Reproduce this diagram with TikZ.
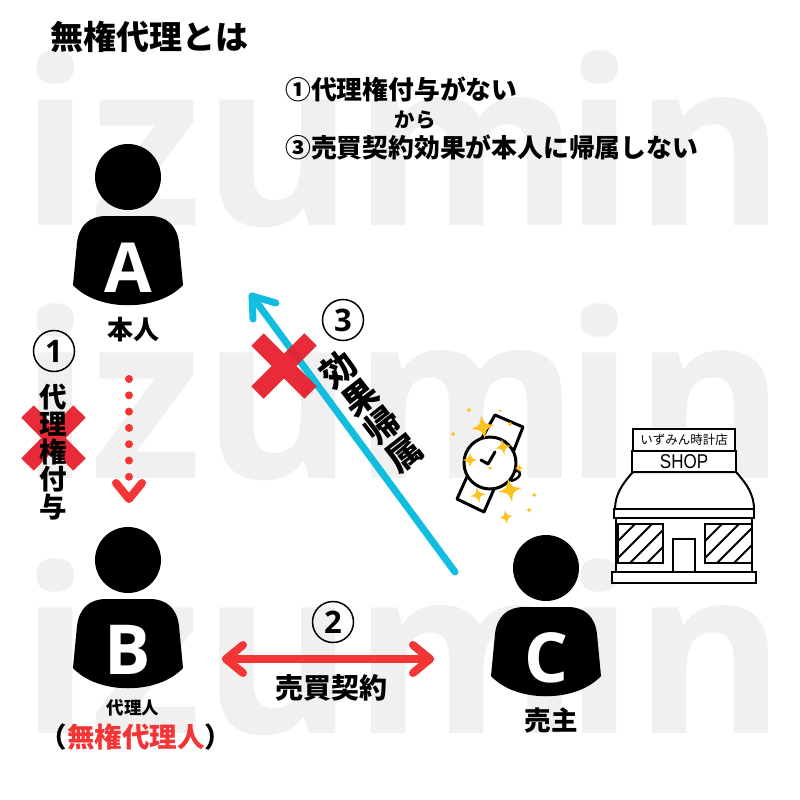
\documentclass[tikz,border=0pt]{standalone}
\usepackage{fontspec}
\usetikzlibrary{arrows.meta}
\setmainfont{Open Sans}
\newfontfamily\jp{Noto Sans CJK JP}
\newfontfamily\wm{Open Sans}
\newfontfamily\shopfont{Liberation Sans}
\definecolor{wmgray}{HTML}{F0F0F0}
\definecolor{redx}{HTML}{E8202F}
\definecolor{redarrow}{HTML}{F33535}
\definecolor{cyanarrow}{HTML}{12BEDF}
\definecolor{gold}{HTML}{FDC21E}
\newcommand{\jpsize}[1]{\fontsize{#1}{#1}\selectfont\jp\bfseries}
\newcommand{\spk}[4]{\fill[gold,shift={(#1,#2)},rotate=#4,scale=#3] (0,-1) .. controls (.2,-.2) .. (1,0) .. controls (.2,.2) .. (0,1) .. controls (-.2,.2) .. (-1,0) .. controls (-.2,-.2) .. cycle;}
\newcommand{\wmword}{izum\kern-15pt in}
\tikzset{
  wmtext/.style={anchor=base west,inner sep=0pt,text=wmgray,font=\fontsize{230}{230}\selectfont\wm\bfseries},
  plaintext/.style={inner sep=0pt,text=black},
  letter/.style={inner sep=0pt,text=white,font=\fontsize{69}{69}\selectfont\wm\bfseries},
  numcircle/.style={circle,draw=black,line width=1.5pt,minimum size=41pt,inner sep=0pt,font=\fontsize{31}{31}\selectfont\wm\bfseries},
  crossline/.style={redx,line width=17.5pt,opacity=.95},
  contractarrow/.style={redarrow,line width=8pt,line cap=round,line join=round},
  effectarrow/.style={cyanarrow,line width=7pt,line cap=round,line join=round},
  grantarrow/.style={redarrow,line width=8pt,line cap=round,dash pattern=on 0pt off 16.3pt},
  grantchevron/.style={redarrow,line width=8pt,line cap=round,line join=round},
  shopline/.style={draw=black,line width=2pt,fill=white},
  watchline/.style={draw=black,line width=3pt,fill=white,line join=round},
  person/.pic={
    \fill[black] (0,0) circle (33);
    \fill[black] (-55,108) .. controls (-30,135) and (30,135) .. (55,108)
      -- (51,66) .. controls (49,48) and (38,39) .. (22,39)
      -- (-22,39) .. controls (-38,39) and (-49,48) .. (-51,66) -- cycle;
  }
}
\begin{document}
\begin{tikzpicture}[x=1pt,y=-1pt]
\useasboundingbox (0,0) rectangle (800,800);
\fill[white] (0,0) rectangle (800,800);
\begin{scope}
\clip (0,0) rectangle (800,800);
\node[wmtext] (wm1) at (20,225) {\wmword};
\node[wmtext] (wm2) at (20,478) {\wmword};
\node[wmtext] (wm3) at (20,733) {\wmword};
\end{scope}

\node[plaintext,anchor=west,font=\jpsize{33}] (title) at (50,37) {無権代理とは};
\node[plaintext,anchor=west,font=\jpsize{25.8}] (line1) at (285,89) {①代理権付与がない};
\node[plaintext,font=\jpsize{20.5}] (line2) at (415,120) {から};
\node[plaintext,anchor=west,font=\jpsize{25.8}] (line3) at (285,147) {③売買契約効果が本人に帰属しない};

\pic at (128,177) {person};
\pic at (128,560) {person};
\pic at (546,568) {person};
\node[letter] (A) at (128,268) {A};
\node[letter] (B) at (128,650) {B};
\node[letter] (C) at (546,658) {C};

\node[plaintext,font=\jpsize{26}] (honnin) at (133,330) {本人};
\node[plaintext,font=\jpsize{17.5}] (dairinin) at (133,708) {代理人};
\node[plaintext,font=\jpsize{27.5}] (muken) at (136,737) {\makebox[0pt][r]{（}\textcolor{redarrow}{無権代理人}\makebox[0pt][l]{）}};
\node[plaintext,font=\jpsize{26.5}] (urinushi) at (551,720) {売主};
\node[plaintext,font=\jpsize{28}] (keiyaku) at (331,688) {売買契約};

\node[numcircle] (n1) at (54,351) {1};
\node[numcircle] (n2) at (333,622) {2};
\node[numcircle] (n3) at (343,320) {3};

% connectors
\coordinate (grantstart) at (129,379);
\coordinate (grantend) at (129,478);
\coordinate (granttip) at (129,499);
\coordinate (contractleft) at (226,659);
\coordinate (contractright) at (430,659);
\coordinate (effectstart) at (455,572);
\coordinate (effecttip) at (252,296);
\draw[grantarrow] (grantstart) -- (grantend);
\draw[grantchevron] (116,483) -- (granttip) -- (142,483);
\draw[contractarrow] (contractleft) -- (contractright);
\draw[contractarrow] (243,645) -- (contractleft) -- (243,673);
\draw[contractarrow] (413,645) -- (contractright) -- (413,673);
\draw[effectarrow] (effectstart) -- (effecttip);
\draw[effectarrow] (276,303) -- (effecttip) -- (253,319);

% crosses
\draw[crossline] (27.5,411.5) -- (79.5,464.5) (79.5,411.5) -- (27.5,464.5);
\draw[crossline] (257.5,339.5) -- (310.5,392.5) (310.5,339.5) -- (257.5,392.5);

\node[plaintext,align=center,font=\jpsize{27.5},text width=30pt] (grant) at (53,452) {\baselineskip=27.5pt 代\\[0pt]理\\[0pt]権\\[0pt]付\\[0pt]与};
\node[plaintext,align=center,rotate=38,font=\jpsize{35},text width=38pt] (effect) at (371,411) {\baselineskip=35.7pt 効\\[0pt]果\\[0pt]帰\\[0pt]属};

% watch
\draw[watchline] (495,415) -- (523,427) -- (510,460) -- (478,445) -- cycle;
\draw[watchline] (457,499) -- (484,512) -- (498,480) -- (470,470) -- cycle;
\draw[black,line width=2.5pt,fill=white] (516,471) .. controls (522,470) and (522,478) .. (511,481);
\draw[watchline] (490,463) circle (26);
\draw[black,line width=3pt,line cap=round,line join=round] (481,460) -- (488,464) -- (495,452);

\spk{483}{427}{12}{10}
\spk{503}{447}{8}{10}
\spk{470}{460}{7.5}{0}
\spk{510}{490}{12}{10}
\spk{478}{495}{8}{10}
\spk{506}{517}{7}{10}
\spk{529}{510}{3}{0}
\spk{534}{495}{2}{0}
\spk{469}{410}{3}{0}
\spk{453}{434}{2}{0}
\spk{490}{468}{2.5}{0}
\spk{519}{468}{4}{0}
\spk{510}{424}{2}{0}
\spk{500}{411}{1.5}{0}

% shop
\path[shopline] (633,472) .. controls (622,484) and (615,495) .. (615,509) -- (754,509) .. controls (754,495) and (747,484) .. (736,472) -- cycle;
\path[shopline] (616,518) rectangle (752,572);
\path[shopline] (614,509) rectangle (754,518);
\path[shopline] (612,572) rectangle (756,583);
\begin{scope}
\clip (618,524) rectangle (663,563);
\foreach \d in {0,17,34,51,68,85} {\draw[black,line width=1.8pt] (618+\d-22,563) -- (618+\d+17,524);}
\end{scope}
\begin{scope}
\clip (705,524) rectangle (752,563);
\foreach \d in {0,17,34,51,68,85} {\draw[black,line width=1.8pt] (705+\d-22,563) -- (705+\d+17,524);}
\end{scope}
\draw[black,line width=2pt] (618,524) rectangle (663,563) (705,524) rectangle (752,563);
\path[shopline] (673,539) rectangle (695,572);
\node[shopline,minimum width=102pt,minimum height=23pt,inner sep=0pt,font=\fontsize{12.5}{12.5}\selectfont\jp] (shopname) at (684,440) {いずみん時計店};
\node[shopline,minimum width=104pt,minimum height=21pt,inner sep=0pt] (shopsign) at (684,461.5) {\shopfont\fontsize{20}{20}\selectfont\scalebox{.85}[1]{SHOP}};
\end{tikzpicture}
\end{document}
